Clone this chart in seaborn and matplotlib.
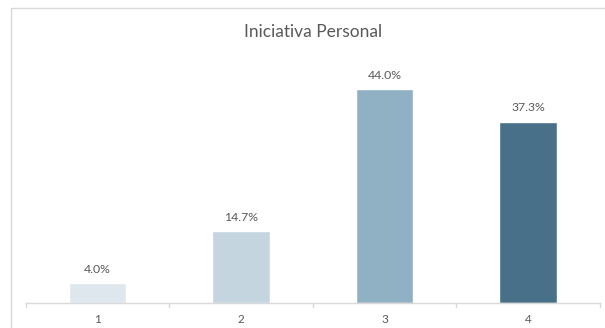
import matplotlib
matplotlib.use("Agg")
import matplotlib.pyplot as plt
import seaborn as sns
import pandas as pd
from matplotlib.patches import Rectangle

# Data
categories = ["1", "2", "3", "4"]
values = [4.0, 14.7, 44.0, 37.3]
bar_colors = ["#DFE7EE", "#C4D5E0", "#90B0C3", "#487088"]
title = "Iniciativa Personal"

df = pd.DataFrame({"cat": categories, "pct": values})

sns.set_theme(style="white")
plt.rcParams["font.family"] = ["Lato", "DejaVu Sans"]

W, H = 605, 328
fig = plt.figure(figsize=(W / 100, H / 100), dpi=100)
fig.patch.set_facecolor("white")

# Chart frame
fig.add_artist(Rectangle((10.5 / W, -0.1), 1.2, 1.1 - 8 / H, transform=fig.transFigure,
                         fill=False, edgecolor="#D9D9D9", linewidth=1.0))

ax = fig.add_axes([25.7 / W, (H - 302.5) / H, (600 - 25.7) / W, (302.5 - 60) / H])
sns.barplot(data=df, x="cat", y="pct", hue="cat", palette=bar_colors,
            width=0.4, legend=False, ax=ax, saturation=1)

ax.set_ylim(0, 50)
ax.set_xlim(-0.5, 3.5)
ax.set_xlabel("")
ax.set_ylabel("")
ax.set_yticks([])
for s in ["top", "right", "left"]:
    ax.spines[s].set_visible(False)
ax.spines["bottom"].set_color("#D9D9D9")
ax.spines["bottom"].set_linewidth(1.0)

# Tick marks at category boundaries
ax.set_xticks([0, 1, 2, 3])
ax.set_xticklabels(categories, fontsize=8.5, color="#595959")
ax.tick_params(axis="x", length=0, pad=8)
for b in [-0.5, 0.5, 1.5, 2.5, 3.5]:
    ax.plot([b, b], [0, -1.0], color="#D9D9D9", lw=1.0, clip_on=False)

for i, v in enumerate(values):
    ax.text(i, v + 1.7, f"{v:.1f}%", ha="center", va="bottom",
            fontsize=8.8, color="#595959")

fig.text(313 / W, 1 - 32 / H, title, ha="center", va="center",
         fontsize=12.5, color="#595959")

fig.savefig("out.png", dpi=100)
